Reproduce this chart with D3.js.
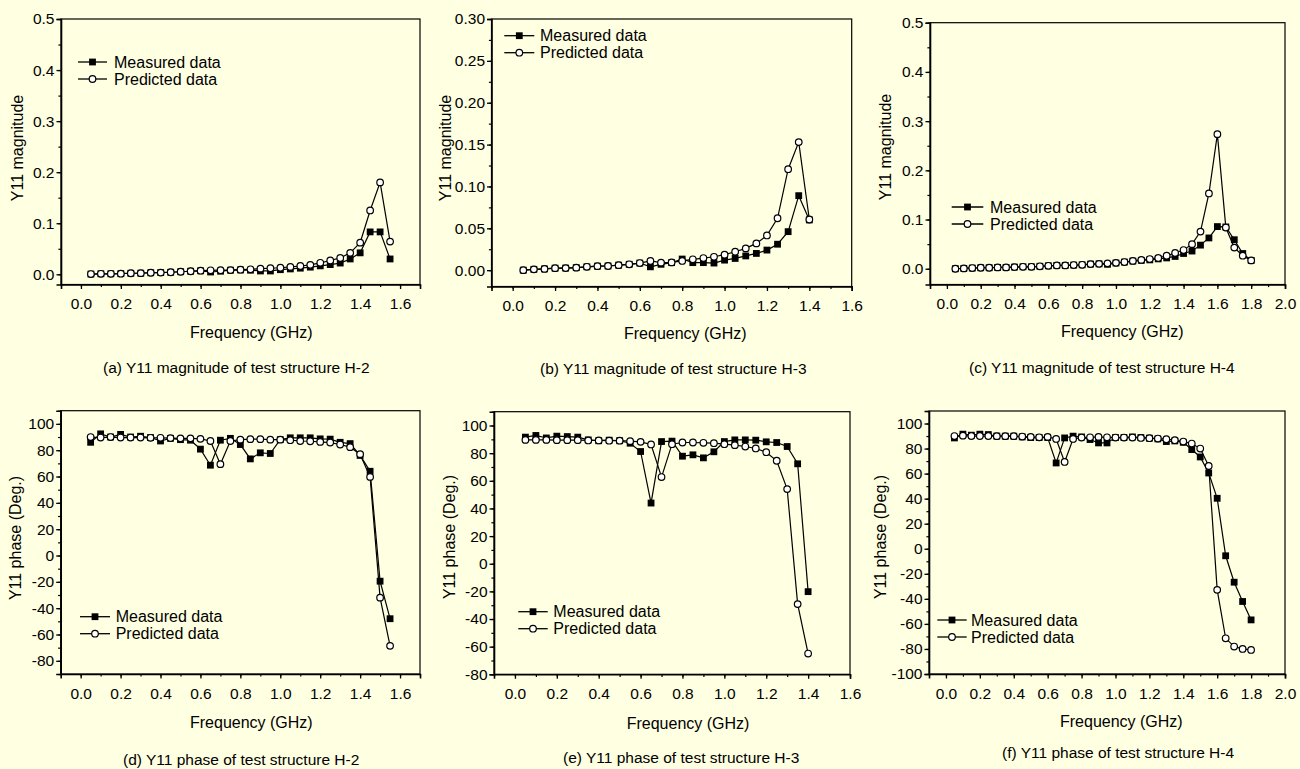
<!DOCTYPE html>
<html>
<head>
<meta charset="utf-8">
<script src="https://cdn.jsdelivr.net/npm/d3@7"></script>
<style>
html,body{margin:0;padding:0;background:#FFFFE1;}
svg{display:block;}
text{font-family:"Liberation Sans",Arial,sans-serif;fill:#000;}
</style>
</head>
<body>
<svg id="chart" width="1300" height="769"></svg>
<script>
// ---------- data ----------
const freqH2 = [0.05,0.10,0.15,0.20,0.25,0.30,0.35,0.40,0.45,0.50,0.55,0.60,0.65,0.70,0.75,0.80,0.85,0.90,0.95,1.00,1.05,1.10,1.15,1.20,1.25,1.30,1.35,1.40,1.45,1.50,1.55];
const freqH3 = [0.05,0.10,0.15,0.20,0.25,0.30,0.35,0.40,0.45,0.50,0.55,0.60,0.65,0.70,0.75,0.80,0.85,0.90,0.95,1.00,1.05,1.10,1.15,1.20,1.25,1.30,1.35,1.40];
const freqH4 = [0.05,0.10,0.15,0.20,0.25,0.30,0.35,0.40,0.45,0.50,0.55,0.60,0.65,0.70,0.75,0.80,0.85,0.90,0.95,1.00,1.05,1.10,1.15,1.20,1.25,1.30,1.35,1.40,1.45,1.50,1.55,1.60,1.65,1.70,1.75,1.80];

const magMeasH2 = [0.0005,0.001,0.001,0.0012,0.002,0.0022,0.003,0.0033,0.004,0.005,0.006,0.0068,0.0045,0.006,0.008,0.0085,0.008,0.0065,0.0065,0.009,0.0105,0.012,0.014,0.0165,0.019,0.022,0.030,0.042,0.083,0.083,0.030];
const magPredH2 = [0.0005,0.001,0.001,0.0012,0.002,0.0022,0.003,0.0033,0.004,0.005,0.006,0.007,0.0078,0.008,0.0082,0.009,0.0098,0.011,0.0118,0.0128,0.0145,0.0162,0.0185,0.0225,0.027,0.032,0.042,0.062,0.125,0.180,0.064];

const magMeasH3 = [0.0,0.001,0.0015,0.0024,0.0025,0.003,0.004,0.0048,0.005,0.006,0.007,0.0085,0.004,0.007,0.009,0.0133,0.009,0.009,0.0085,0.012,0.014,0.017,0.020,0.024,0.031,0.046,0.089,0.060];
const magPredH3 = [0.0,0.001,0.0015,0.0024,0.0025,0.003,0.004,0.0048,0.005,0.006,0.007,0.0085,0.011,0.009,0.0093,0.011,0.013,0.0145,0.016,0.0185,0.022,0.026,0.032,0.0415,0.062,0.1206,0.153,0.0605];

const magMeasH4 = [0.0,0.0007,0.0014,0.002,0.002,0.0027,0.0027,0.0034,0.004,0.004,0.005,0.006,0.0068,0.0068,0.0075,0.008,0.0095,0.010,0.009,0.0116,0.0136,0.0156,0.017,0.018,0.020,0.022,0.025,0.031,0.036,0.048,0.0626,0.0857,0.085,0.059,0.031,0.017];
const magPredH4 = [0.0,0.0007,0.0014,0.002,0.002,0.0027,0.0027,0.0034,0.004,0.004,0.005,0.006,0.0068,0.0068,0.0075,0.008,0.0095,0.010,0.011,0.012,0.0136,0.016,0.018,0.0197,0.022,0.0265,0.032,0.038,0.050,0.0755,0.153,0.2735,0.0837,0.043,0.0265,0.017];

const phMeasH2 = [86,92.4,90,92,90,90.6,89.6,87,89,88,87.6,80.8,68.6,87.6,89,84.3,73.4,78,77.5,88,89.4,89.4,89.4,88.6,88.4,86,85,76,64,-19.5,-48];
const phPredH2 = [90,89.6,90,89.6,89.6,89.6,89.4,89.4,89.2,89,89,88.6,87,69.4,87,88,88.4,88.4,88,88,87.6,87,86.8,86.3,85.8,84.3,82.3,77,59.7,-32,-68.6];

const phMeasH3 = [91.6,92.8,91,92.3,92,91.6,89.6,89,89.4,89,87.2,81.2,43.9,88.4,88.7,77.8,78.8,76.6,81,88.4,89.6,89.6,89.4,88.2,87.7,84.8,72.3,-20.2];
const phPredH3 = [89.6,89.6,89.6,89.4,89.4,89.4,89.2,89.2,89,89,88.7,88.2,86.3,62.7,86.5,87.7,87.7,87.5,87.2,86.5,85.8,84.8,83.4,80.7,74.5,54,-29.2,-65];

const phMeasH4 = [88.5,91.5,90.7,91.5,91.2,90,89.9,89.9,89.3,88.8,88.8,88.8,68.5,88.5,89.9,89.3,87.2,84.5,84.5,88.8,88.8,89.3,88.8,88.3,87.7,85.6,86.1,85,79.2,73.3,60.5,40.3,-5.6,-26.7,-42.1,-56.8];
const phPredH4 = [90,90.3,90,90,90,89.9,89.9,89.9,89.6,89.3,89,89.3,87.7,69.3,87.7,88.8,89,89.3,89,88.8,88.8,88.8,88.5,88.3,88,87.5,86.7,85.6,84,80,66.1,-32.8,-71.5,-78.1,-80,-80.8];

const seriesNames = ["Measured data","Predicted data"];
const captions = [
  "(a) Y11 magnitude of test structure H-2",
  "(b) Y11 magnitude of test structure H-3",
  "(c) Y11 magnitude of test structure H-4",
  "(d) Y11 phase of test structure H-2",
  "(e) Y11 phase of test structure H-3",
  "(f) Y11 phase of test structure H-4"
];
const xTitle = "Frequency (GHz)";
const yTitles = ["Y11 magnitude","Y11 phase (Deg.)"];
const xTicksShort = [0.0,0.2,0.4,0.6,0.8,1.0,1.2,1.4,1.6];
const xTicksLong  = [0.0,0.2,0.4,0.6,0.8,1.0,1.2,1.4,1.6,1.8,2.0];
const yTicksMag5  = [0.0,0.1,0.2,0.3,0.4,0.5];
const yTicksMag3  = [0.00,0.05,0.10,0.15,0.20,0.25,0.30];
const yTicksPhD   = [-80,-60,-40,-20,0,20,40,60,80,100];
const yTicksPhF   = [-100,-80,-60,-40,-20,0,20,40,60,80,100];

// ---------- layout ----------
const panels = [
  {x:freqH2, m:magMeasH2, p:magPredH2, box:[61,19,420,284.5], xd:[-0.1,1.7], yd:[-0.02,0.5], xt:xTicksShort, yt:yTicksMag5, fmt:".1f", yTitle:0,
   yTitleX:17, yTitleY:148, xTitleX:190, xTitleY:338, capX:103, capY:373, leg:[78,107,114,62]},
  {x:freqH3, m:magMeasH3, p:magPredH3, box:[491.5,19,851.7,286.5], xd:[-0.1,1.6], yd:[-0.0195,0.30], xt:xTicksShort, yt:yTicksMag3, fmt:".2f", yTitle:0,
   yTitleX:445, yTitleY:148, xTitleX:624, xTitleY:339, capX:540, capY:374, leg:[504.3,534.3,540,35.7]},
  {x:freqH4, m:magMeasH4, p:magPredH4, box:[930,22.7,1285,284.5], xd:[-0.1,2.0], yd:[-0.032,0.5], xt:xTicksLong, yt:yTicksMag5, fmt:".1f", yTitle:0,
   yTitleX:885, yTitleY:147, xTitleX:1061, xTitleY:337, capX:969, capY:373, leg:[951.7,983.3,990,207]},
  {x:freqH2, m:phMeasH2, p:phPredH2, box:[60.7,410.7,420,674], xd:[-0.1,1.7], yd:[-90,110], xt:xTicksShort, yt:yTicksPhD, fmt:"d", yTitle:1,
   yTitleX:15, yTitleY:538, xTitleX:190, xTitleY:728, capX:123, capY:765, leg:[80,110,115.7,616.7]},
  {x:freqH3, m:phMeasH3, p:phPredH3, box:[494,411.7,850,674.3], xd:[-0.1,1.6], yd:[-80,110], xt:xTicksShort, yt:yTicksPhD, fmt:"d", yTitle:1,
   yTitleX:449, yTitleY:537, xTitleX:626.7, xTitleY:729, capX:563, capY:763, leg:[518.3,547.7,553.3,611.7]},
  {x:freqH4, m:phMeasH4, p:phPredH4, box:[929,411,1285,674], xd:[-0.1,2.0], yd:[-100,110], xt:xTicksLong, yt:yTicksPhF, fmt:"d", yTitle:1,
   yTitleX:880, yTitleY:537, xTitleX:1060, xTitleY:727, capX:1002, capY:758, leg:[937.3,966.7,971,620]}
];

const svg = d3.select("#chart");
svg.append("rect").attr("width",1300).attr("height",769).attr("fill","#FFFFE1");

const FS_TICK = 15.5, FS_LEG = 16, FS_TITLE = 16, FS_CAP = 15.5;
const SQ = 6.8, CR = 3.3;
const FONT = "Liberation Sans, Arial, sans-serif";

function drawSquare(g, cx, cy){
  g.append("rect").attr("x",cx-SQ/2).attr("y",cy-SQ/2).attr("width",SQ).attr("height",SQ).attr("fill","#000");
}
function drawCircle(g, cx, cy){
  g.append("circle").attr("cx",cx).attr("cy",cy).attr("r",CR).attr("fill","#fff").attr("stroke","#000").attr("stroke-width",1.2);
}
const hy = f => (v => d3.format(f)(v).replace("\u2212","-"));

panels.forEach((P, pi) => {
  const [l,t,r,b] = P.box;
  const xs = d3.scaleLinear().domain(P.xd).range([l,r]);
  const ys = d3.scaleLinear().domain(P.yd).range([b,t]);
  const g = svg.append("g");

  // frame
  g.append("rect").attr("x",l).attr("y",t).attr("width",r-l).attr("height",b-t)
    .attr("fill","#FFFFE1").attr("stroke","#000").attr("stroke-width",1.2);

  // x axis
  const xMajorStep = P.xt[1]-P.xt[0];
  const xMinor = d3.range(Math.round((P.xd[1]-P.xd[0])/(xMajorStep/2))+1).map(i => P.xd[0]+i*xMajorStep/2);
  const xAxis = d3.axisBottom(xs).tickValues(P.xt).tickFormat(hy(".1f")).tickSize(4.5).tickPadding(9);
  const gx = g.append("g").attr("transform",`translate(0,${b})`).call(xAxis);
  gx.select(".domain").attr("stroke-width",1.6);
  gx.selectAll(".tick line").attr("stroke-width",1.3);
  gx.selectAll(".tick text").attr("font-size",FS_TICK).attr("font-family",FONT);
  g.append("g").attr("transform",`translate(0,${b})`)
    .call(d3.axisBottom(xs).tickValues(xMinor).tickFormat("").tickSize(2.6).tickSizeOuter(0))
    .call(s=>{s.select(".domain").remove(); s.selectAll("line").attr("stroke-width",1.2);});

  // y axis
  const yMajorStep = P.yt[1]-P.yt[0];
  const yMinor = [];
  for (let v = P.yt[0]-yMajorStep/2; v <= P.yd[1]+1e-9; v += yMajorStep/2) if (v >= P.yd[0]-1e-9) yMinor.push(+v.toFixed(6));
  const yAxis = d3.axisLeft(ys).tickValues(P.yt).tickFormat(hy(P.fmt)).tickSize(4.5).tickPadding(2);
  const gy = g.append("g").attr("transform",`translate(${l},0)`).call(yAxis);
  gy.select(".domain").attr("stroke-width",1.6);
  gy.selectAll(".tick line").attr("stroke-width",1.3);
  gy.selectAll(".tick text").attr("font-size",FS_TICK).attr("font-family",FONT);
  g.append("g").attr("transform",`translate(${l},0)`)
    .call(d3.axisLeft(ys).tickValues(yMinor).tickFormat("").tickSize(2.6).tickSizeOuter(0))
    .call(s=>{s.select(".domain").remove(); s.selectAll("line").attr("stroke-width",1.2);});

  // lines
  const line = d3.line().x((d,i)=>xs(P.x[i])).y(d=>ys(d));
  g.append("path").attr("d",line(P.m)).attr("fill","none").attr("stroke","#000").attr("stroke-width",1.2);
  P.m.forEach((v,i)=>drawSquare(g, xs(P.x[i]), ys(v)));
  g.append("path").attr("d",line(P.p)).attr("fill","none").attr("stroke","#000").attr("stroke-width",1.2);
  P.p.forEach((v,i)=>drawCircle(g, xs(P.x[i]), ys(v)));

  // legend
  const [lx1,lx2,tx,ly] = P.leg;
  seriesNames.forEach((name,k)=>{
    const yy = ly + k*17;
    g.append("line").attr("x1",lx1).attr("x2",lx2).attr("y1",yy).attr("y2",yy).attr("stroke","#000").attr("stroke-width",1.3);
    if (k===0) drawSquare(g,(lx1+lx2)/2,yy); else drawCircle(g,(lx1+lx2)/2,yy);
    g.append("text").attr("x",tx).attr("y",yy+5.6).attr("font-size",FS_LEG).text(name);
  });

  // titles
  g.append("text").attr("x",P.xTitleX).attr("y",P.xTitleY).attr("font-size",FS_TITLE).text(xTitle);
  g.append("text").attr("transform",`translate(${P.yTitleX},${P.yTitleY}) rotate(-90)`)
    .attr("text-anchor","middle").attr("dy","0.35em").attr("font-size",FS_TITLE).text(yTitles[P.yTitle]);
  g.append("text").attr("x",P.capX).attr("y",P.capY).attr("font-size",FS_CAP).text(captions[pi]);
});
</script>
</body>
</html>
